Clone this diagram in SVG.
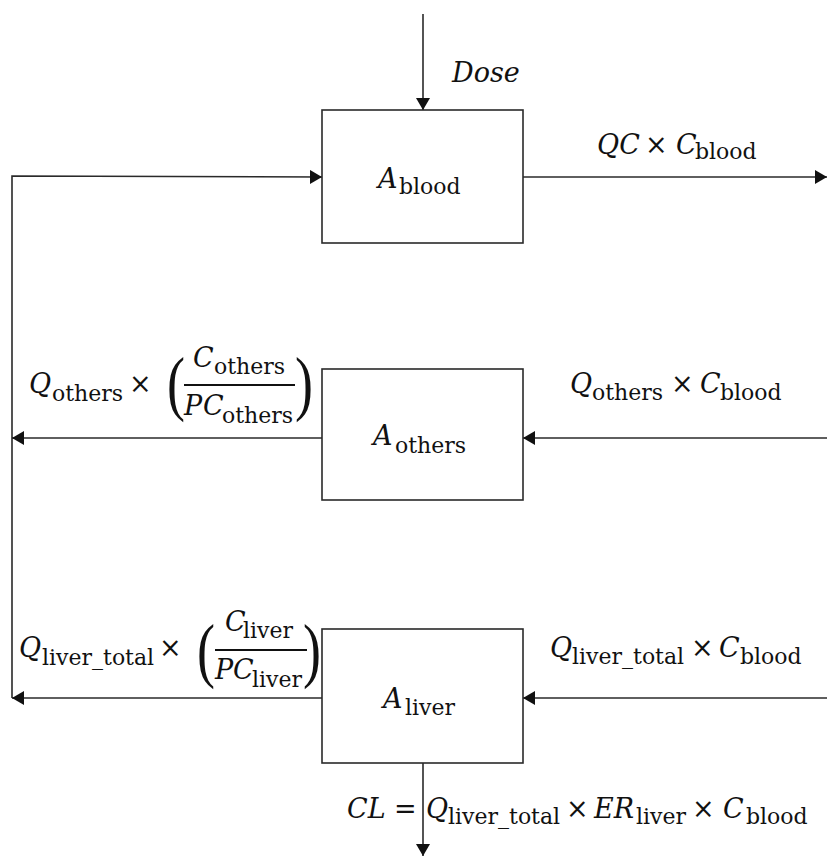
<svg xmlns="http://www.w3.org/2000/svg" width="827" height="856" viewBox="0 0 827 856">
<defs>
<style>
.bg{fill:#ffffff}
.box{fill:#ffffff;stroke:#2a2a2a;stroke-width:1.6}
.ln{fill:none;stroke:#2a2a2a;stroke-width:1.6}
.bar{stroke:#111;stroke-width:2}
text{font-family:"DejaVu Serif","Liberation Serif",serif;fill:#111}
.m{font-size:27px;font-style:italic}
.o{font-size:27px}
.s{font-size:22px}
.p{font-family:"Liberation Serif","DejaVu Serif",serif;font-size:72px}
</style>
<marker id="ah" viewBox="0 0 12 14" markerWidth="12" markerHeight="14" refX="12" refY="7" orient="auto" markerUnits="userSpaceOnUse">
<path d="M0,0 L12,7 L0,14 z" fill="#111"/>
</marker>
</defs>
<rect class="bg" x="0" y="0" width="827" height="856"/>

<g id="connectors">
<line class="ln" x1="423" y1="14" x2="423" y2="110" marker-end="url(#ah)"/>
<line class="ln" x1="523" y1="177" x2="827" y2="177" marker-end="url(#ah)"/>
<polyline class="ln" points="12,698 12,176 322,177" marker-end="url(#ah)"/>
<line class="ln" x1="322" y1="438" x2="12" y2="438" marker-end="url(#ah)"/>
<line class="ln" x1="827" y1="438" x2="523" y2="438" marker-end="url(#ah)"/>
<line class="ln" x1="322" y1="698" x2="12" y2="698" marker-end="url(#ah)"/>
<line class="ln" x1="827" y1="698" x2="523" y2="698" marker-end="url(#ah)"/>
<line class="ln" x1="423" y1="763" x2="423" y2="856" marker-end="url(#ah)"/>
</g>

<g id="blood">
<rect class="box" x="322" y="110" width="201" height="133"/>
<text class="m" x="378" y="188">A</text>
<text class="s" x="399" y="194">blood</text>
</g>

<g id="others">
<rect class="box" x="322" y="369" width="201" height="131"/>
<text class="m" x="373" y="445">A</text>
<text class="s" x="395" y="453">others</text>
</g>

<g id="liver">
<rect class="box" x="322" y="629" width="201" height="134"/>
<text class="m" x="383" y="708">A</text>
<text class="s" x="405" y="715">liver</text>
</g>

<g id="label-dose">
<text class="m" x="452" y="82">Dose</text>
</g>

<g id="label-qc">
<text class="m" x="597" y="154">QC</text>
<text class="o" x="645" y="154">×</text>
<text class="m" x="676" y="154">C</text>
<text class="s" x="695" y="159">blood</text>
</g>

<g id="label-others-out">
<text class="m" x="29" y="393">Q</text>
<text class="s" x="52" y="401">others</text>
<text class="o" x="129" y="393">×</text>
<text class="p" x="167" y="407" transform="translate(167,0) scale(0.75,1) translate(-167,0)">(</text>
<text class="m" x="193" y="367">C</text>
<text class="s" x="214" y="374">others</text>
<line class="bar" x1="184" y1="385" x2="295" y2="385"/>
<text class="m" x="184" y="415">P</text>
<text class="m" x="203" y="415">C</text>
<text class="s" x="222" y="423">others</text>
<text class="p" x="295" y="407" transform="translate(295,0) scale(0.75,1) translate(-295,0)">)</text>
</g>

<g id="label-others-in">
<text class="m" x="570" y="393">Q</text>
<text class="s" x="592" y="400">others</text>
<text class="o" x="671" y="393">×</text>
<text class="m" x="700" y="393">C</text>
<text class="s" x="720" y="400">blood</text>
</g>

<g id="label-liver-out">
<text class="m" x="19" y="657">Q</text>
<text class="s" x="42" y="665">liver_total</text>
<text class="o" x="159" y="657">×</text>
<text class="p" x="197" y="674" transform="translate(197,0) scale(0.75,1) translate(-197,0)">(</text>
<text class="m" x="225" y="631">C</text>
<text class="s" x="243" y="638">liver</text>
<line class="bar" x1="215" y1="650" x2="307" y2="650"/>
<text class="m" x="215" y="679">P</text>
<text class="m" x="233" y="679">C</text>
<text class="s" x="252" y="687">liver</text>
<text class="p" x="303" y="674" transform="translate(303,0) scale(0.75,1) translate(-303,0)">)</text>
</g>

<g id="label-liver-in">
<text class="m" x="550" y="657">Q</text>
<text class="s" x="572" y="664">liver_total</text>
<text class="o" x="691" y="657">×</text>
<text class="m" x="719" y="657">C</text>
<text class="s" x="740" y="664">blood</text>
</g>

<g id="label-cl">
<text class="m" x="347" y="818">CL</text>
<text class="o" x="394" y="818">=</text>
<text class="m" x="426" y="818">Q</text>
<text class="s" x="448" y="824">liver_total</text>
<text class="o" x="566" y="818">×</text>
<text class="m" x="594" y="818">ER</text>
<text class="s" x="636" y="824">liver</text>
<text class="o" x="692" y="818">×</text>
<text class="m" x="723" y="818">C</text>
<text class="s" x="746" y="824">blood</text>
</g>
</svg>
